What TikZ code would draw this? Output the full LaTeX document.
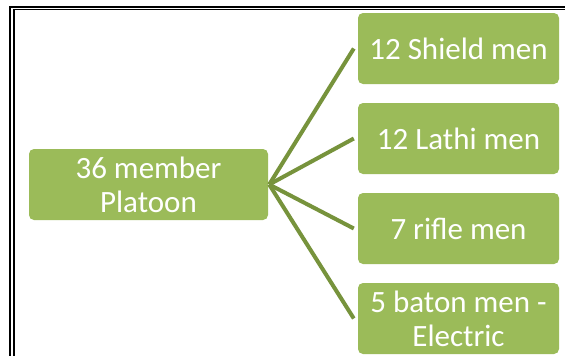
\documentclass[tikz,border=0pt]{standalone}
\usepackage{fontspec}
\setmainfont{Carlito}
\usepackage{tikz}
\definecolor{leaf}{HTML}{9BBB59}
\definecolor{stem}{HTML}{77933C}
\def\big{\fontsize{31}{34}\selectfont}

\begin{document}
\begin{tikzpicture}[x=1pt,y=-1pt,
  box/.style={fill=leaf,rounded corners=5pt,text=white,font=\big,
    align=center,inner sep=0pt,minimum height=71pt},
  twig/.style={draw=stem,line width=4pt}]%<<<
\clip (0,0) rectangle (565,356);
\fill[white] (0,0) rectangle (565,356);
\draw[line width=2pt] (10.3,700) |- (700,6.7);
\draw[line width=1.3pt] (14,700) |- (700,9.7);
\node[box,minimum width=239pt] (platoon) at (148.5,184.5) {36 member\\Platoon};
\node[box,minimum width=201pt] (shield) at (458.5,48.5) {12 Shield men};
\node[box,minimum width=201pt] (lathi) at (458.5,138.5) {12 Lathi men};
\node[box,minimum width=201pt] (rifle) at (458.5,228.5) {7 rifle men};
\node[box,minimum width=201pt] (baton) at (458.5,318.5) {5 baton men -\\Electric};
\foreach \n in {shield,lathi,rifle,baton}
  \draw[twig] ([xshift=1pt]platoon.east) -- ([xshift=-4pt]\n.west);
\end{tikzpicture}
\end{document}
